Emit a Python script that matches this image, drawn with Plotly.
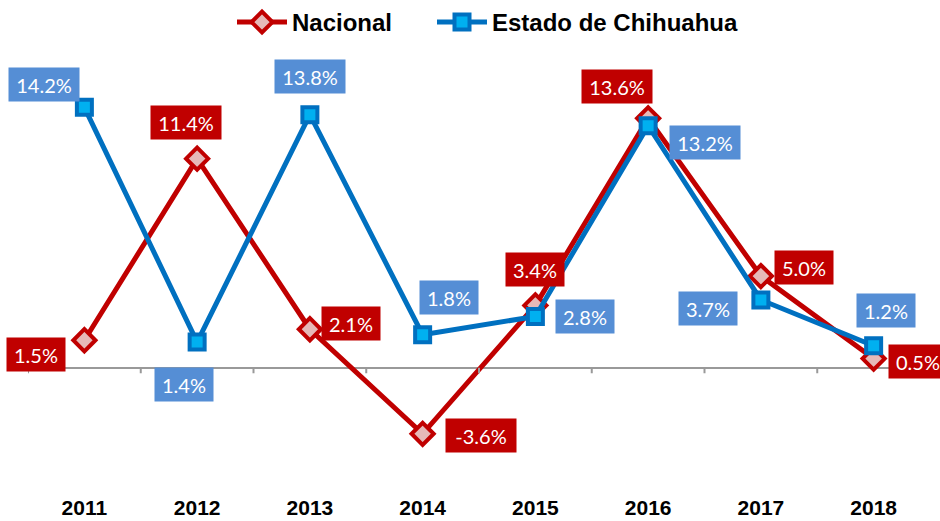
import plotly.graph_objects as go

years = ["2011", "2012", "2013", "2014", "2015", "2016", "2017", "2018"]
nacional = [1.5, 11.4, 2.1, -3.6, 3.4, 13.6, 5.0, 0.5]
chihuahua = [14.2, 1.4, 13.8, 1.8, 2.8, 13.2, 3.7, 1.2]

# label offsets (pixels) relative to each point
nac_shift = [(-48, -14), (-11, 36), (41, 6), (58, -2), (0, 36), (-31, 32), (43, 9), (44, -3)]
chi_shift = [(-40, 23), (-13, -42), (0, 38), (26, 37), (50, 0), (57, -17), (-53, -9), (12, 35)]

RED = "#C00000"
BLUE = "#0070C0"
RED_LBL = "#C00000"
BLUE_LBL = "#558ED5"

fig = go.Figure()
fig.add_trace(go.Scatter(
    x=years, y=nacional, name="Nacional", mode="lines+markers", legend="legend",
    line=dict(color=RED, width=5),
    marker=dict(symbol="diamond", size=17, color="#E6B9B8", line=dict(color=RED, width=4)),
))
fig.add_trace(go.Scatter(
    x=years, y=chihuahua, name="Estado de Chihuahua", mode="lines+markers", legend="legend2",
    line=dict(color=BLUE, width=5),
    marker=dict(symbol="square", size=15, color="#00B0F0", line=dict(color=BLUE, width=4)),
))

label_font = dict(family="Lato, Carlito, sans-serif", size=20, color="white")


def label(i, v, shift, bg):
    text = f"{v:.1f}%"
    return dict(x=i, y=v, xref="x", yref="y", text=text, showarrow=False,
                xshift=shift[0], yshift=shift[1], bgcolor=bg, borderpad=0,
                width=12 * len(text) + 10, height=33, font=label_font)


# category positions are given by index so year-like names are not read as numbers
annotations = [label(i, v, s, RED_LBL) for i, (v, s) in enumerate(zip(nacional, nac_shift))]
annotations += [label(i, v, s, BLUE_LBL) for i, (v, s) in enumerate(zip(chihuahua, chi_shift))]

# small tick marks below the zero line at category boundaries
shapes = []
for i in range(len(years) + 1):
    shapes.append(dict(type="line", xref="x", yref="y", x0=i - 0.5, x1=i - 0.5, y0=0, y1=-0.3,
                       line=dict(color="#999999", width=2)))

bold_font = "Liberation Sans Narrow, Arial Narrow, Liberation Sans, sans-serif"
legend_font = dict(family=bold_font, size=24, color="black", weight="bold")

fig.update_layout(
    width=940, height=521,
    margin=dict(l=28, r=10, t=45, b=30),
    paper_bgcolor="white", plot_bgcolor="white",
    showlegend=True,
    legend=dict(orientation="h", x=232 / 940, xanchor="left", xref="container",
                y=1.0, yanchor="top", yref="container", font=legend_font, itemwidth=50),
    legend2=dict(orientation="h", x=432 / 940, xanchor="left", xref="container",
                 y=1.0, yanchor="top", yref="container", font=legend_font, itemwidth=50),
    annotations=annotations,
    shapes=shapes,
    xaxis=dict(type="category", range=[-0.5, 7.5], showgrid=False, showline=False, ticks="",
               automargin=False, ticklabelstandoff=2,
               tickfont=dict(family=bold_font, size=21, color="black", weight="bold")),
    yaxis=dict(range=[-6.72, 17.6], showgrid=False, showticklabels=False, zeroline=True,
               automargin=False,
               zerolinecolor="#999999", zerolinewidth=2, showline=False, ticks=""),
)

fig.write_html("out.html")
